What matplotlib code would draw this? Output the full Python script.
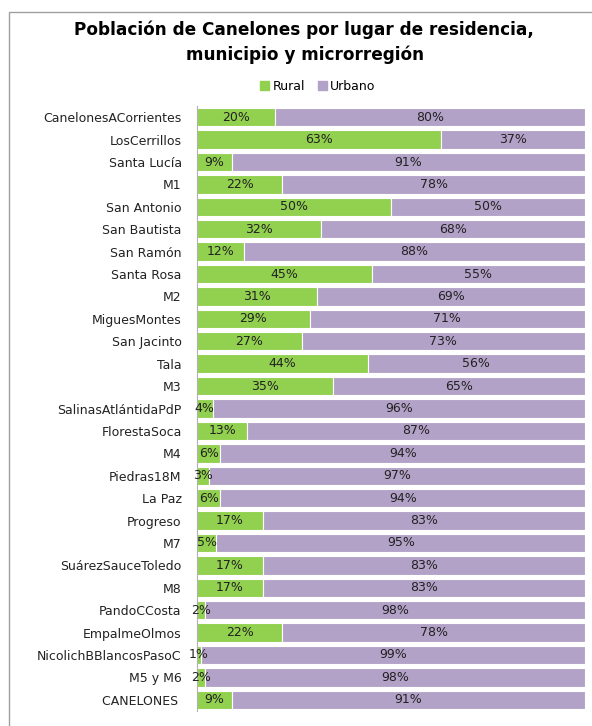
import matplotlib.pyplot as plt
import matplotlib.patches as mpatches
import numpy as np

lugares = ['CanelonesACorrientes', 'LosCerrillos', 'Santa Lucía', 'M1',
           'San Antonio', 'San Bautista', 'San Ramón', 'Santa Rosa', 'M2',
           'MiguesMontes', 'San Jacinto', 'Tala', 'M3', 'SalinasAtlántidaPdP',
           'FlorestaSoca', 'M4', 'Piedras18M', 'La Paz', 'Progreso', 'M7',
           'SuárezSauceToledo', 'M8', 'PandoCCosta', 'EmpalmeOlmos',
           'NicolichBBlancosPasoC', 'M5 y M6', 'CANELONES ']
rural = [20, 63, 9, 22, 50, 32, 12, 45, 31, 29, 27, 44, 35, 4, 13, 6, 3, 6,
         17, 5, 17, 17, 2, 22, 1, 2, 9]
urbano = [80, 37, 91, 78, 50, 68, 88, 55, 69, 71, 73, 56, 65, 96, 87, 94, 97,
          94, 83, 95, 83, 83, 98, 78, 99, 98, 91]

verde = '#92d050'
lila = '#b3a2c7'

plt.rcParams['font.family'] = ['DejaVu Sans']

fig = plt.figure(figsize=(5.92, 7.26), dpi=100)
ax = fig.add_axes([197/592, 1 - 711/726, 388/592, (711 - 106)/726])

y = np.arange(len(lugares))
r = np.array(rural) / 100
u = np.array(urbano) / 100
ax.barh(y, r, height=0.82, color=verde, edgecolor='white', linewidth=0.8)
ax.barh(y, u, left=r, height=0.82, color=lila, edgecolor='white', linewidth=0.8)

for i in range(len(lugares)):
    ax.text(r[i] / 2, y[i], f'{rural[i]}%', ha='center', va='center',
            fontsize=9, color='#222222')
    ax.text(r[i] + u[i] / 2, y[i], f'{urbano[i]}%', ha='center', va='center',
            fontsize=9, color='#222222')

ax.set_yticks(y)
ax.set_yticklabels(lugares, fontsize=9, color='#222222')
ax.tick_params(axis='y', length=0, pad=11)
ax.set_xticks([])
ax.set_xlim(0, 1)
ax.set_ylim(len(lugares) - 0.5, -0.5)
for s in ['top', 'right', 'bottom']:
    ax.spines[s].set_visible(False)
ax.spines['left'].set_color('#b0b0b0')

fig.text(304/592, 1 - 30/726, 'Población de Canelones por lugar de residencia,',
         ha='center', va='center', fontsize=12.2, fontweight='bold')
fig.text(305/592, 1 - 55/726, 'municipio y microrregión',
         ha='center', va='center', fontsize=12.2, fontweight='bold')

handles = [mpatches.Patch(color=verde, label='Rural'),
           mpatches.Patch(color=lila, label='Urbano')]
fig.legend(handles=handles, loc='center', bbox_to_anchor=(318/592, 1 - 86/726),
           ncol=2, frameon=False, fontsize=9, handlelength=0.7,
           handleheight=0.7, handletextpad=0.3, columnspacing=1.0)

fig.patches.append(mpatches.Rectangle((9/592, -0.01), 1.0, 1 - 12/726 + 0.01,
                                      transform=fig.transFigure, fill=False,
                                      edgecolor='#a0a0a0', linewidth=1))

fig.savefig('out.png', dpi=100)
